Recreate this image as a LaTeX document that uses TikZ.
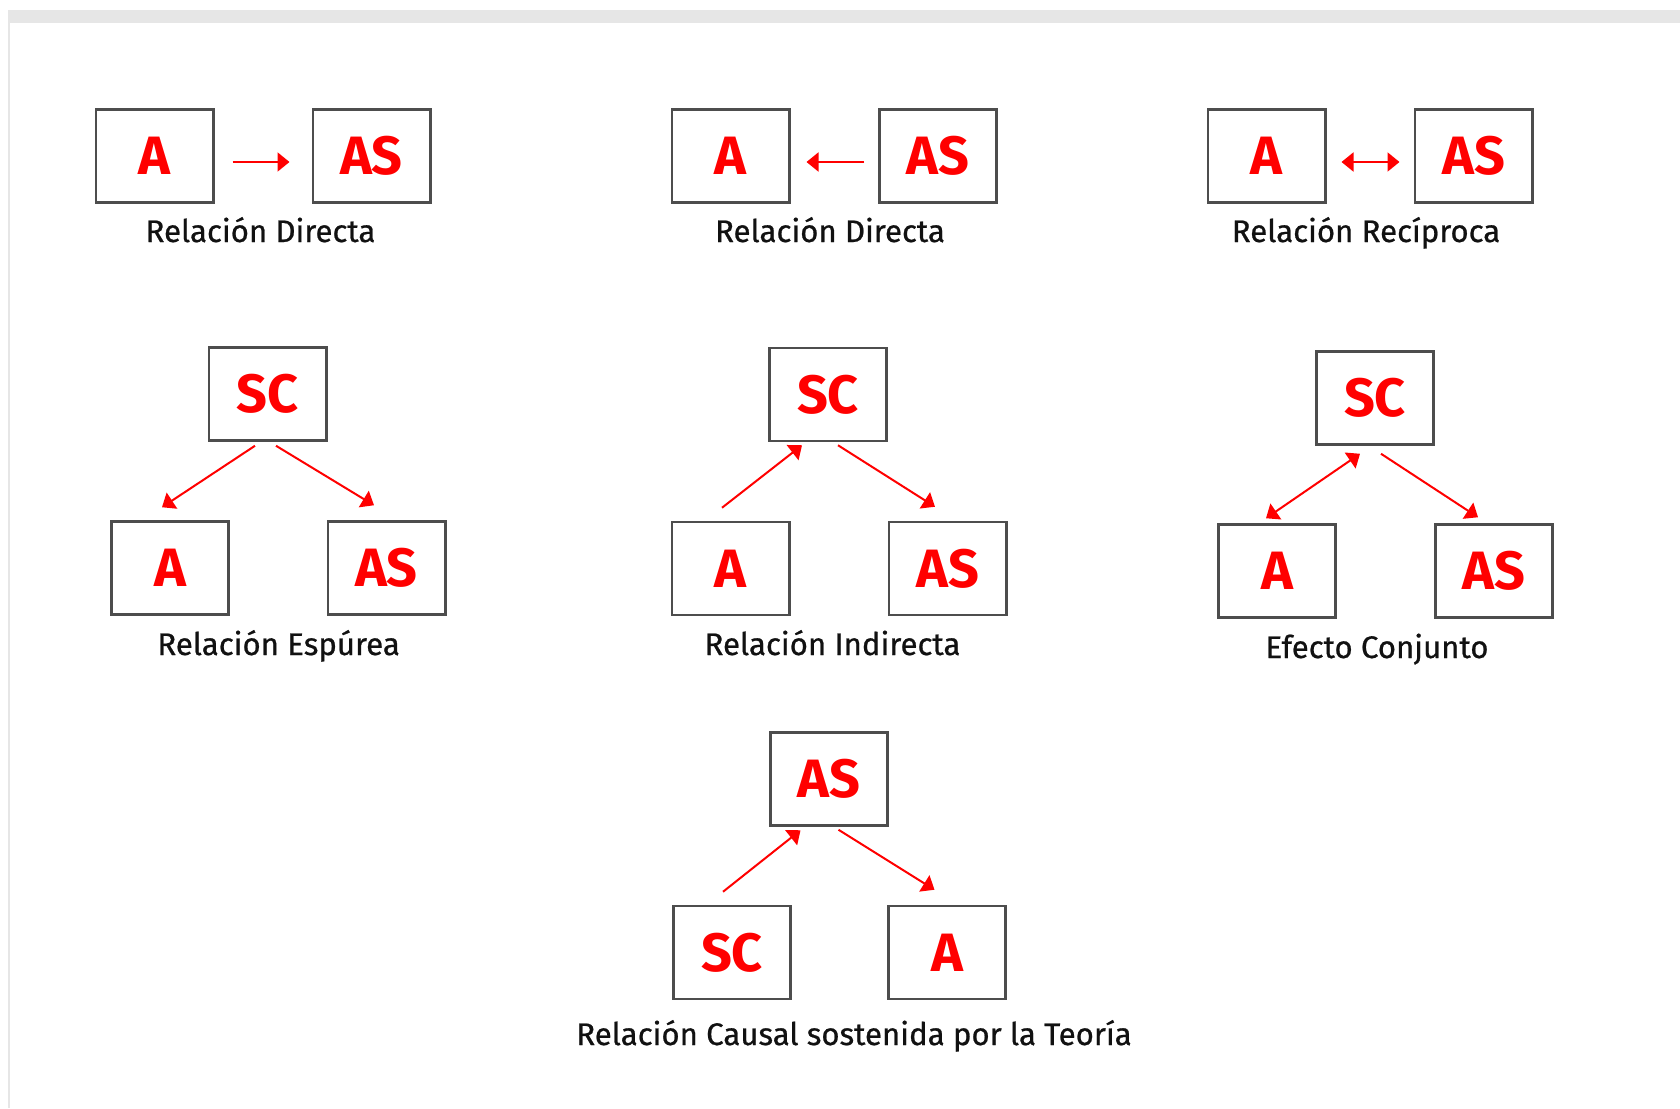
\documentclass[tikz,border=0pt]{standalone}
\usepackage{fontspec}
\setmainfont{Fira Sans}
\newfontface\capfont{Fira Sans}[FakeBold=0.7]
\usetikzlibrary{arrows.meta,calc}
\definecolor{boxgray}{HTML}{4D4D4D}
\definecolor{bandgray}{HTML}{E6E6E6}
\definecolor{vred}{HTML}{FF0000}
\definecolor{captxt}{HTML}{111111}
\begin{document}
\begin{tikzpicture}[x=0.5pt,y=-0.5pt,
  vbox/.style={draw=boxgray,line width=1.35pt,minimum width=58.65pt,minimum height=46.4pt,inner sep=0pt,text=vred,font=\fontsize{27}{27}\selectfont\bfseries},
  captext/.style={anchor=base,inner sep=0pt,font=\capfont\fontsize{15.6}{16}\selectfont,text=captxt},
  rar/.style={draw=vred,line width=1pt,-{Triangle[length=6pt,width=9.5pt]}},
  dar/.style={draw=vred,line width=1pt,{Triangle[length=6pt,width=9.5pt]}-{Triangle[length=6pt,width=9.5pt]}}]
\useasboundingbox (0,0) rectangle (1680,1108);
\fill[white] (0,0) rectangle (1680,1108);
\fill[bandgray] (8,10) rectangle (1680,23);
\fill[bandgray] (8,23) rectangle (10,1108);

% Group 1
\node[vbox] (a1) at (154.5,156) {A};
\node[vbox] (s1) at (371.5,156) {AS};
\draw[rar] ([shift={(18,6)}]a1.east) -- ([shift={(-22,6)}]s1.west);
\node[captext] (l1) at (260.5,242) {Relación Directa};

% Group 2
\node[vbox] (a2) at (730.5,156) {A};
\node[vbox] (s2) at (938,156) {AS};
\draw[rar] ([shift={(-14,6)}]s2.west) -- ([shift={(16,6)}]a2.east);
\node[captext] (l2) at (830,242) {Relación Directa};

% Group 3
\node[vbox] (a3) at (1266.5,156) {A};
\node[vbox] (s3) at (1473.5,156) {AS};
\draw[dar] ([shift={(15,6)}]a3.east) -- ([shift={(-14,6)}]s3.west);
\node[captext] (l3) at (1366,242) {Relación Recíproca};

% Group 4
\node[vbox] (sc4) at (267.5,394) {SC};
\node[vbox] (a4) at (170,568) {A};
\node[vbox] (s4) at (386.5,568) {AS};
\draw[rar] ([shift={(-12.5,4)}]sc4.south) -- ([shift={(-8,-13)}]a4.north);
\draw[rar] ([shift={(8.5,4)}]sc4.south) -- ([shift={(-12.5,-15)}]s4.north);
\node[captext] (l4) at (278.6,655) {Relación Espúrea};

% Group 5
\node[vbox] (sc5) at (828,394.5) {SC};
\node[vbox] (a5) at (730.5,568.5) {A};
\node[vbox] (s5) at (947.5,568.5) {AS};
\draw[rar] ([shift={(-8.5,-13)}]a5.north) -- ([shift={(-26,3)}]sc5.south);
\draw[rar] ([shift={(10,3)}]sc5.south) -- ([shift={(-12.5,-14)}]s5.north);
\node[captext] (l5) at (832.5,655) {Relación Indirecta};

% Group 6
\node[vbox] (sc6) at (1375,398) {SC};
\node[vbox] (a6) at (1277,571) {A};
\node[vbox] (s6) at (1494,571) {AS};
\draw[dar] ([shift={(-11,-5)}]a6.north) -- ([shift={(-15,8)}]sc6.south);
\draw[rar] ([shift={(6,8)}]sc6.south) -- ([shift={(-16,-6)}]s6.north);
\node[captext] (l6) at (1377,658) {Efecto Conjunto};

% Group 7
\node[vbox] (as7) at (829,779) {AS};
\node[vbox] (sc7) at (732,952.5) {SC};
\node[vbox] (a7) at (947,952.5) {A};
\draw[rar] ([shift={(-9,-13)}]sc7.north) -- ([shift={(-28.5,3.5)}]as7.south);
\draw[rar] ([shift={(9.5,3)}]as7.south) -- ([shift={(-12.5,-15)}]a7.north);
\node[captext] (l7) at (854,1045) {Relación Causal sostenida por la Teoría};
\end{tikzpicture}
\end{document}
